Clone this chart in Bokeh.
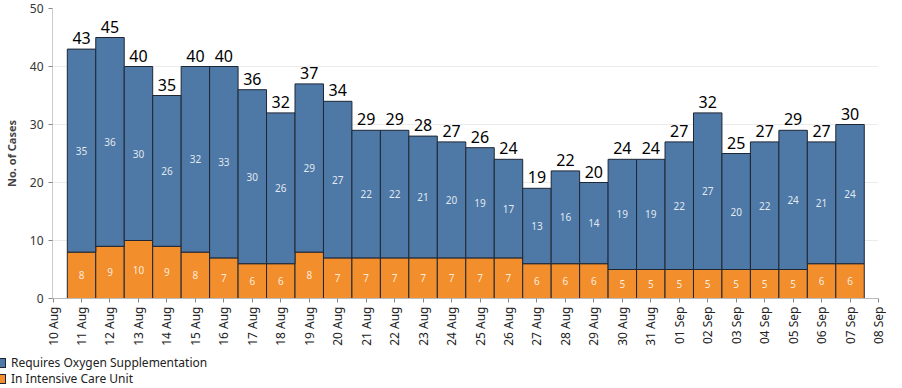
import math
from bokeh.plotting import figure
from bokeh.layouts import column
from bokeh.models import ColumnDataSource, Range1d, FixedTicker, Div
from bokeh.core.properties import value
from bokeh.embed import file_html
from bokeh.resources import INLINE

# ---- data ----
tick_labels = ["10 Aug", "11 Aug", "12 Aug", "13 Aug", "14 Aug", "15 Aug", "16 Aug", "17 Aug",
               "18 Aug", "19 Aug", "20 Aug", "21 Aug", "22 Aug", "23 Aug", "24 Aug", "25 Aug",
               "26 Aug", "27 Aug", "28 Aug", "29 Aug", "30 Aug", "31 Aug", "01 Sep", "02 Sep",
               "03 Sep", "04 Sep", "05 Sep", "06 Sep", "07 Sep", "08 Sep"]
bar_dates = tick_labels[1:29]
icu = [8, 9, 10, 9, 8, 7, 6, 6, 8, 7, 7, 7, 7, 7, 7, 7, 6, 6, 6, 5, 5, 5, 5, 5, 5, 5, 6, 6]
oxygen = [35, 36, 30, 26, 32, 33, 30, 26, 29, 27, 22, 22, 21, 20, 19, 17, 13, 16, 14, 19, 19,
          22, 27, 20, 22, 24, 21, 24]
y_ticks = [0, 10, 20, 30, 40, 50]
series_names = ["Requires Oxygen Supplementation", "In Intensive Care Unit"]

BLUE = "#4e79a7"
ORANGE = "#f28e2b"
EDGE = "#1f2633"
FONT = "Noto Sans"

x = list(range(len(bar_dates)))
total = [a + b for a, b in zip(icu, oxygen)]
src = ColumnDataSource(dict(
    x=x, icu=icu, oxygen=oxygen, total=total,
    icu_mid=[a / 2 for a in icu],
    oxy_mid=[a + b / 2 for a, b in zip(icu, oxygen)],
    icu_txt=[str(v) for v in icu],
    oxy_txt=[str(v) for v in oxygen],
    tot_txt=[str(v) for v in total],
))

p = figure(width=886, height=350, output_backend="svg", toolbar_location=None,
           x_range=Range1d(-1.02, 28.0), y_range=Range1d(0, 50),
           min_border_left=44, min_border_right=8, min_border_top=8, min_border_bottom=52)
p.outline_line_color = None
p.background_fill_color = "white"

r_icu = p.vbar(x="x", width=1.0, bottom=0, top="icu", source=src,
               fill_color=ORANGE, line_color=EDGE, line_width=1)
r_oxy = p.vbar(x="x", width=1.0, bottom="icu", top="total", source=src,
               fill_color=BLUE, line_color=EDGE, line_width=1)

p.text(x="x", y="icu_mid", text="icu_txt", source=src, text_align="center",
       text_baseline="middle", text_color="white", text_alpha=0.85,
       text_font=value(FONT), text_font_size="10px")
p.text(x="x", y="oxy_mid", text="oxy_txt", source=src, text_align="center",
       text_baseline="middle", text_color="white", text_alpha=0.85,
       text_font=value(FONT), text_font_size="10px")
p.text(x="x", y="total", text="tot_txt", source=src, text_align="center",
       text_baseline="bottom", y_offset=-5, text_color="black",
       text_font=value(FONT), text_font_size="16px")

# axes
p.xaxis.ticker = FixedTicker(ticks=list(range(-1, len(tick_labels) - 1)))
p.xaxis.major_label_overrides = {i - 1: lab for i, lab in enumerate(tick_labels)}
p.xaxis.major_label_orientation = math.pi / 2
p.xaxis.major_label_text_font = FONT
p.xaxis.major_label_text_font_size = "12px"
p.xaxis.major_label_text_color = "#222222"
p.xaxis.major_tick_in = 0
p.xaxis.major_tick_out = 4
p.xaxis.minor_tick_line_color = None
p.xaxis.axis_line_color = "#bbbbbb"
p.xaxis.major_tick_line_color = "#888888"
p.xaxis.major_label_standoff = 4

p.yaxis.ticker = FixedTicker(ticks=y_ticks)
p.yaxis.axis_label = "No. of Cases"
p.yaxis.axis_label_text_font = FONT
p.yaxis.axis_label_text_font_style = "bold"
p.yaxis.axis_label_text_font_size = "11px"
p.yaxis.axis_label_standoff = 8
p.yaxis.major_label_text_font = FONT
p.yaxis.major_label_text_font_size = "12px"
p.yaxis.major_label_text_color = "#333333"
p.yaxis.major_tick_in = 0
p.yaxis.major_tick_out = 4
p.yaxis.minor_tick_line_color = None
p.yaxis.axis_line_color = "#cccccc"
p.yaxis.major_tick_line_color = "#888888"

p.xgrid.grid_line_color = None
p.ygrid.grid_line_color = "#ebebeb"

# ---- legend (HTML text below the chart) ----
def legend_row(color, name):
    return (f'<div style="white-space:nowrap;height:16px;">'
            f'<span style="display:inline-block;width:10px;height:10px;background:{color};'
            f'border:1px solid {EDGE};vertical-align:-1px;margin-right:5px;"></span>{name}</div>')

legend_html = (f'<div style="font-family:\'{FONT}\';font-size:12px;color:#222222;'
               f'line-height:16px;padding-top:5px;margin:0 0 0 -4px;">'
               + legend_row(BLUE, series_names[0]) + legend_row(ORANGE, series_names[1]) + '</div>')
legend_div = Div(text=legend_html, width=400, height=38, margin=(0, 0, 0, 0))

open("out.html", "w").write(file_html(column(p, legend_div, spacing=0), INLINE))
